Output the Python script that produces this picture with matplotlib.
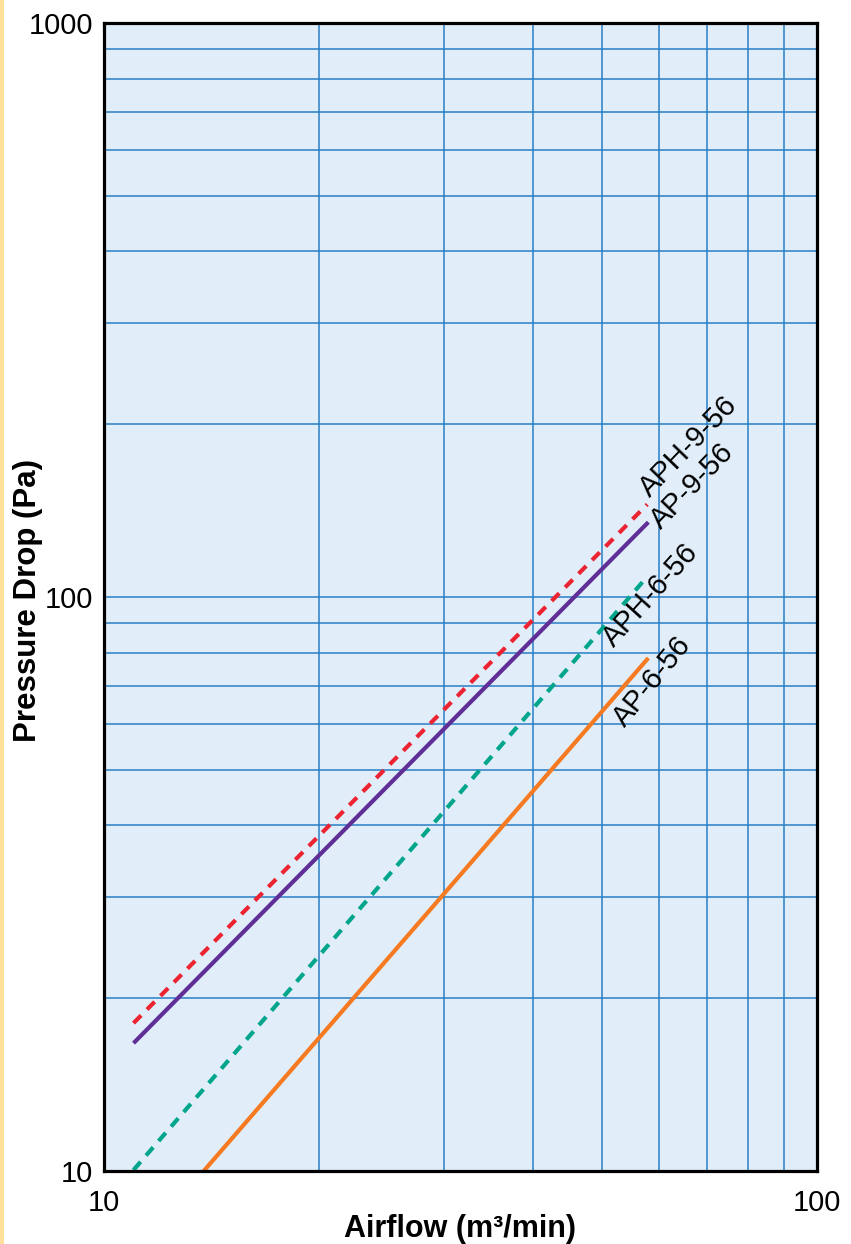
import matplotlib
matplotlib.use("Agg")
import matplotlib.pyplot as plt
from matplotlib.patches import Rectangle

plt.rcParams['font.family'] = ['Liberation Sans', 'DejaVu Sans']

# Data (airflow m3/min, pressure drop Pa)
series_names = ["APH-9-56", "AP-9-56", "APH-6-56", "AP-6-56"]
aph956_x = [11.0, 57.8]
aph956_y = [18.1, 145.0]
ap956_x = [11.0, 58.0]
ap956_y = [16.7, 135.0]
aph656_x = [11.0, 57.9]
aph656_y = [10.04, 108.8]
ap656_x = [13.8, 58.0]
ap656_y = [10.0, 78.3]

label_pos = {
    "APH-9-56": (58.3, 149.0, 46),
    "AP-9-56": (60.4, 131.0, 46),
    "APH-6-56": (51.9, 81.5, 48),
    "AP-6-56": (53.7, 59.1, 51),
}

x_ticks = [10, 100]
y_ticks = [10, 100, 1000]

fig = plt.figure(figsize=(8.51, 12.44), dpi=100)
fig.patches.append(Rectangle((0, 0), 3.5 / 851, 1, transform=fig.transFigure,
                             facecolor='#FFE09A', edgecolor='none', zorder=0))
ax = fig.add_axes([104 / 851, 1 - 1171 / 1244, 713 / 851, 1148 / 1244])
ax.set_facecolor('#E1EEF9')
ax.set_xscale('log')
ax.set_yscale('log')
ax.set_xlim(10, 100)
ax.set_ylim(10, 1000)

ax.grid(True, which='both', color='#2A7FC5', linewidth=1.1)
ax.set_axisbelow(True)

dash = (0, (2.6, 2.0))
ax.plot(aph956_x, aph956_y, color='#EC2331', lw=3, linestyle=dash, dash_capstyle='butt')
ax.plot(ap956_x, ap956_y, color='#5F2E96', lw=3, solid_capstyle='butt')
ax.plot(aph656_x, aph656_y, color='#00A58B', lw=3, linestyle=dash, dash_capstyle='butt')
ax.plot(ap656_x, ap656_y, color='#F57A22', lw=3, solid_capstyle='butt')

for name in series_names:
    x, y, rot = label_pos[name]
    ax.text(x, y, name, rotation=rot, rotation_mode='anchor', ha='left', va='baseline',
            fontsize=21, color='black')

ax.set_xticks(x_ticks)
ax.set_xticklabels([str(t) for t in x_ticks])
ax.set_yticks(y_ticks)
ax.set_yticklabels([str(t) for t in y_ticks])
ax.xaxis.set_minor_formatter(matplotlib.ticker.NullFormatter())
ax.yaxis.set_minor_formatter(matplotlib.ticker.NullFormatter())
ax.tick_params(which='both', length=0)
ax.tick_params(axis='x', which='major', pad=13, labelsize=21)
ax.tick_params(axis='y', which='major', pad=8, labelsize=21)

for s in ax.spines.values():
    s.set_linewidth(2.3)
    s.set_color('black')

fig.text(460 / 851, 1 - 1237 / 1244, 'Airflow (m\u00b3/min)', ha='center', va='baseline',
         fontsize=22, fontweight='bold')
fig.text(28 / 851, 1 - 601 / 1244, 'Pressure Drop (Pa)', ha='center', va='center',
         rotation=90, fontsize=22.5, fontweight='bold')

fig.savefig('out.png', dpi=100)
